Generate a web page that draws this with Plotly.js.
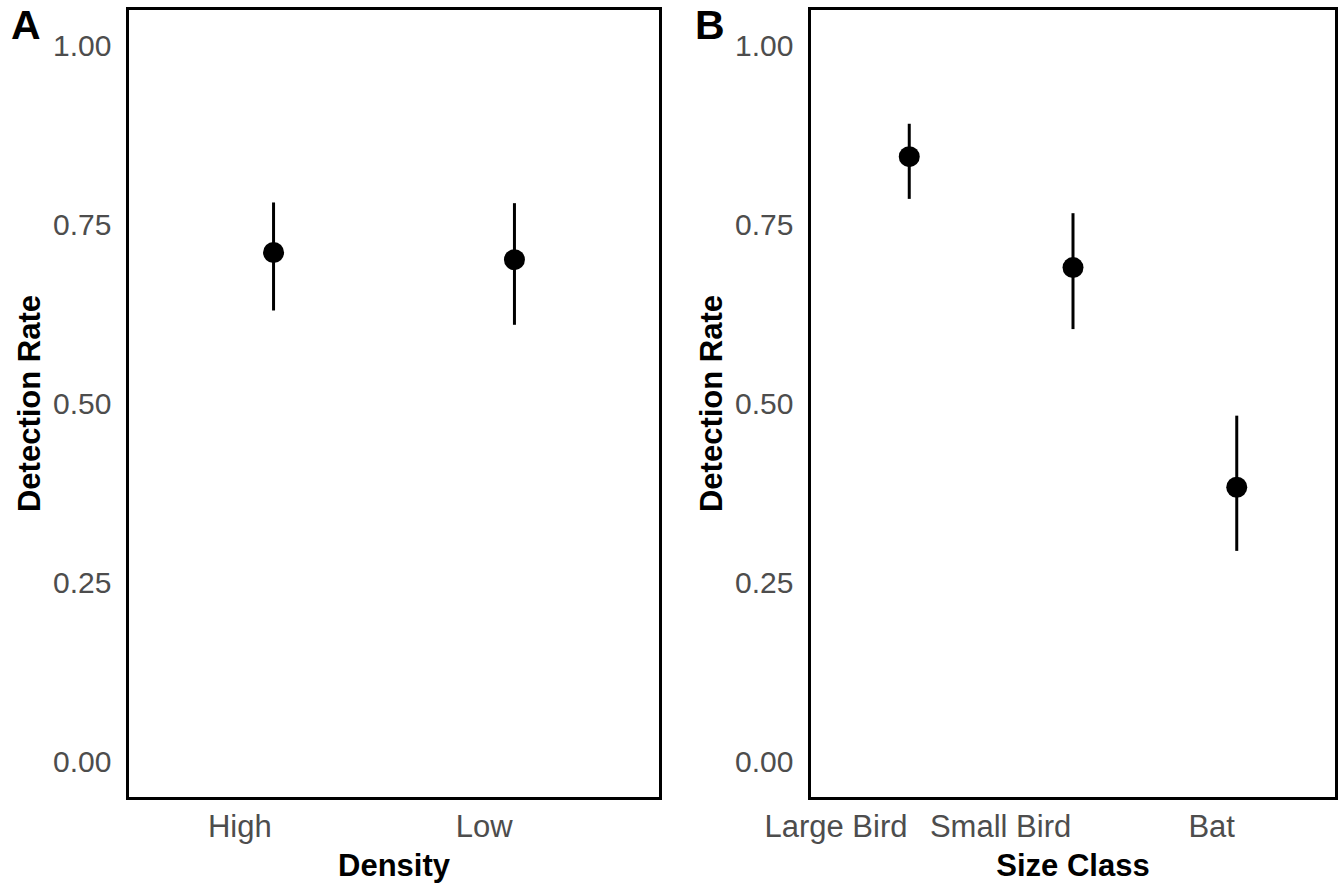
<!DOCTYPE html>
<html>
<head>
<meta charset="utf-8">
<script src="https://cdn.plot.ly/plotly-3.0.1.min.js"></script>
<style>html,body{margin:0;padding:0;background:#fff;}#chart{width:1343px;height:888px;}</style>
</head>
<body>
<div id="chart"></div>
<script>
// Panel A: detection rate by density
const densityCats = ['High', 'Low'];
const densityRate = [0.711, 0.701];
const densityLower = [0.630, 0.610];
const densityUpper = [0.781, 0.780];

// Panel B: detection rate by size class
const sizeCats = ['Large Bird', 'Small Bird', 'Bat'];
const sizeRate = [0.845, 0.690, 0.383];
const sizeLower = [0.786, 0.604, 0.294];
const sizeUpper = [0.891, 0.766, 0.483];

const yTickVals = [0, 0.25, 0.5, 0.75, 1];
const yTickText = ['0.00', '0.25', '0.50', '0.75', '1.00'];

function errTrace(cats, rate, lo, hi, xa, ya) {
  return {
    type: 'scatter', mode: 'markers',
    x: cats, y: rate, xaxis: xa, yaxis: ya,
    marker: {color: '#000000', size: 21},
    error_y: {
      type: 'data', symmetric: false,
      array: hi.map((v, i) => v - rate[i]),
      arrayminus: rate.map((v, i) => v - lo[i]),
      color: '#000000', thickness: 3, width: 0
    },
    showlegend: false, hoverinfo: 'skip'
  };
}

const font = 'Liberation Sans, Arial, sans-serif';
const xTickFont = {family: font, size: 31, color: '#4D4D4D'};
const yTickFont = {family: font, size: 30, color: '#4D4D4D'};
const titleFont = {family: font, size: 31, color: '#000000', weight: 'bold'};

function xAxis(domain, cats, anchor, title) {
  return {
    domain: domain, anchor: anchor, type: 'category',
    categoryorder: 'array', categoryarray: cats,
    range: [-0.6, cats.length - 0.4],
    showline: true, mirror: true, linecolor: '#000000', linewidth: 2.6,
    showgrid: false, zeroline: false,
    ticks: 'outside', ticklen: 13, tickcolor: 'rgba(0,0,0,0)',
    ticklabelposition: 'outside left',
    tickfont: xTickFont,
    title: {text: title, font: titleFont, standoff: 12},
    automargin: false
  };
}
function yAxis(anchor) {
  return {
    domain: [1 - 797/888, 1 - 10/888], anchor: anchor,
    range: [-0.05, 1.05],
    tickvals: yTickVals, ticktext: yTickText,
    showline: true, mirror: true, linecolor: '#000000', linewidth: 2.6,
    showgrid: false, zeroline: false,
    ticks: 'outside', ticklen: 9, tickcolor: 'rgba(0,0,0,0)',
    tickfont: yTickFont,
    title: {text: 'Detection Rate', font: titleFont, standoff: 3},
    automargin: false
  };
}

const data = [
  errTrace(densityCats, densityRate, densityLower, densityUpper, 'x', 'y'),
  errTrace(sizeCats, sizeRate, sizeLower, sizeUpper, 'x2', 'y2')
];

const layout = {
  width: 1343, height: 888,
  margin: {l: 0, r: 0, t: 0, b: 0},
  paper_bgcolor: '#ffffff', plot_bgcolor: '#ffffff',
  font: {family: font},
  xaxis: xAxis([129/1343, 659/1343], densityCats, 'y', 'Density'),
  yaxis: yAxis('x'),
  xaxis2: xAxis([811/1343, 1335/1343], sizeCats, 'y2', 'Size Class'),
  yaxis2: yAxis('x2'),
  annotations: [
    {text: 'A', xref: 'paper', yref: 'paper', x: 9/1343, y: 1,
     xanchor: 'left', yanchor: 'top', yshift: 0, showarrow: false,
     font: {family: font, size: 41, color: '#000000', weight: 'bold'}},
    {text: 'B', xref: 'paper', yref: 'paper', x: 693/1343, y: 1,
     xanchor: 'left', yanchor: 'top', yshift: 0, showarrow: false,
     font: {family: font, size: 41, color: '#000000', weight: 'bold'}}
  ]
};

Plotly.newPlot('chart', data, layout, {displayModeBar: false, staticPlot: true});
</script>
</body>
</html>
